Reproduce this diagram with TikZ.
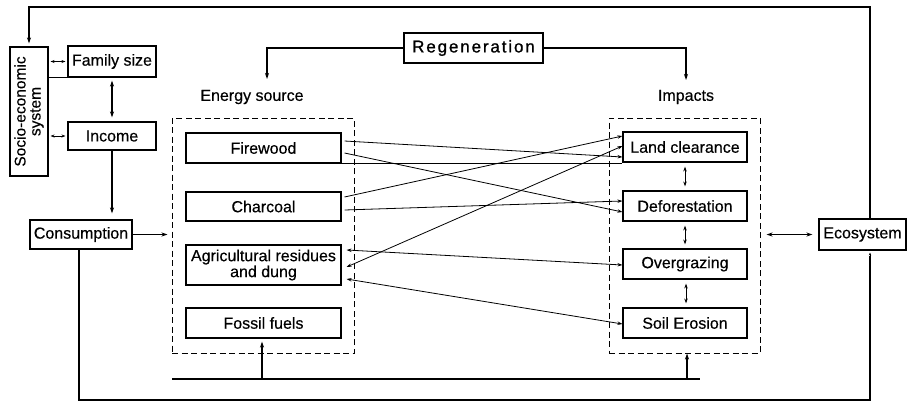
\documentclass[tikz,border=0pt]{standalone}
\usepackage{fontspec}
\setmainfont{Liberation Sans}
\usetikzlibrary{arrows.meta,calc}
\newcommand{\basefont}{\fontsize{16}{16.5}\selectfont\addfontfeatures{FakeBold=0.4}}
\begin{document}
\begin{tikzpicture}[x=1pt,y=-1pt,
  font=\basefont,
  box/.style={draw,line width=1.1pt,inner sep=0pt,align=center},
  dashbox/.style={draw,dashed,dash pattern=on 6pt off 3.5pt,line width=1pt,inner sep=0pt},
  ln/.style={line width=1.1pt},
  arr/.style={ln,-{Stealth[length=6pt,width=4pt]}},
  darr/.style={ln,{Stealth[length=6pt,width=4pt]}-{Stealth[length=6pt,width=4pt]}},
  sarr/.style={line width=0.8pt,{Stealth[length=4pt,width=3pt]}-{Stealth[length=4pt,width=3pt]}},
  thin arr/.style={line width=0.8pt,-{Stealth[length=5pt,width=3.4pt]}},
  thin darr/.style={line width=0.8pt,{Stealth[length=5pt,width=3.4pt]}-{Stealth[length=5pt,width=3.4pt]}}]
\useasboundingbox (0,0) rectangle (907,402);

% left column
\node[box,rotate=90,minimum width=129pt,minimum height=38pt,font=\basefont\fontsize{15.5}{15}\selectfont] (socio) at (29,111.5) {Socio-economic\\system};
\node[box,minimum width=88pt,minimum height=31pt] (fam) at (112,61.5) {Family size};
\node[box,minimum width=88pt,minimum height=28pt] (inc) at (112,136) {Income};
\node[box,minimum width=102pt,minimum height=29pt] (cons) at (81,234.5) {Consumption};

% energy sources
\node (eslab) at (252,97) {Energy source};
\node[dashbox,minimum width=182pt,minimum height=235pt] (ldash) at (263,235.5) {};
\node[box,minimum width=155pt,minimum height=30pt] (fire) at (263.5,148) {Firewood};
\node[box,minimum width=155pt,minimum height=29pt] (char) at (263.5,206.5) {Charcoal};
\node[box,minimum width=155pt,minimum height=40pt,font=\basefont\fontsize{16}{14}\selectfont] (agri) at (263.5,265) {Agricultural residues\\and dung};
\node[box,minimum width=155pt,minimum height=30pt] (foss) at (263.5,323) {Fossil fuels};

% impacts
\node (imlab) at (686,97) {Impacts};
\node[dashbox,minimum width=151pt,minimum height=235pt] (rdash) at (684.5,235.5) {};
\node[box,minimum width=124pt,minimum height=30pt] (land) at (685,147) {Land clearance};
\node[box,minimum width=124pt,minimum height=30pt] (defor) at (685,206) {Deforestation};
\node[box,minimum width=124pt,minimum height=30pt] (over) at (685,264) {Overgrazing};
\node[box,minimum width=124pt,minimum height=30pt] (soil) at (685,323) {Soil Erosion};

\node[box,minimum width=87pt,minimum height=31pt] (eco) at (862.5,234.5) {Ecosystem};
\node[box,minimum width=139pt,minimum height=30pt,font=\fontsize{17}{17}\selectfont\addfontfeatures{LetterSpace=11,FakeBold=1}] (regen) at (473.5,48) {Regeneration};

% top feedback loop
\coordinate (tl) at (29,7);
\coordinate (tr) at (870,7);
\draw[arr] (eco.north -| tr) -- (tr) -- (tl) -- ([yshift=3pt]socio.east -| tl);

% left column connectors
\draw[sarr] (socio.south |- fam) ++(2,0) -- ([xshift=-2pt]fam.west);
\draw[sarr] (socio.south |- inc) ++(2,0) -- ([xshift=-2pt]inc.west);
\draw[ln] (socio.south |- fam.south) -- (fam.south west);
\draw[darr] ([yshift=-3pt]fam.south) -- ([yshift=4pt]inc.north);
\draw[arr] (inc.south) -- ([yshift=6pt]cons.north -| inc.south);
\draw[arr] (cons.east) -- ([xshift=-4pt]ldash.west |- cons.east);

% regeneration
\coordinate (rgl) at (267,48);
\coordinate (rgr) at (686,48);
\draw[arr] (regen.west) -- (rgl) -- (267,79);
\draw[arr] (regen.east) -- (rgr) -- (686,80);

% firewood bottom line
\draw[ln] (fire.south east) -- (fire.south east -| land.west);

% cross links
\draw[thin arr] ([xshift=3pt,yshift=7pt]fire.east) -- ([yshift=-10pt]land.west);
\draw[thin arr] ([xshift=3pt,yshift=-5pt]fire.east) -- ([yshift=-6pt]defor.west);
\draw[thin arr] ([xshift=3pt,yshift=9.5pt]char.east) -- ([yshift=11pt]land.west);
\draw[thin arr] ([xshift=3pt,yshift=-3.5pt]char.east) -- ([yshift=5pt]defor.west);
\draw[thin darr] ([xshift=5pt,yshift=-2pt]agri.east) -- ([yshift=1pt]land.west);
\draw[thin darr] ([xshift=5pt,yshift=15pt]agri.east) -- ([yshift=-1pt]over.west);
\draw[thin darr] ([xshift=5pt,yshift=-14pt]agri.east) -- ([yshift=-1pt]soil.west);

% impacts chain
\draw[thin darr] ([yshift=-4pt]land.south) -- ([yshift=4pt]defor.north);
\draw[thin darr] ([yshift=-4pt]defor.south) -- ([yshift=4pt]over.north);
\draw[thin darr] ([xshift=1pt,yshift=-4pt]over.south) -- ([xshift=1pt,yshift=4pt]soil.north);

% ecosystem link
\draw[darr] ([xshift=6pt]rdash.east |- eco.west) -- ([xshift=-6pt]eco.west);

% bottom lines
\coordinate (b1) at (172,379);
\coordinate (b2) at (700,379);
\draw[ln] (b1) -- (b2);
\draw[arr] (262,379) -- ([yshift=-3pt]foss.south -| 262,0);
\draw[arr] (687,379) -- (rdash.south -| 687,0);

\coordinate (bl) at (79,400);
\coordinate (br) at (870,400);
\draw[ln] (cons.south -| bl) -- (bl) -- (br) -- ([yshift=-5pt]eco.south -| br);
\draw[line width=0.6pt,-{Stealth[length=3pt,width=2.4pt]}] ([yshift=-5pt]eco.south -| br) -- ([yshift=-2pt]eco.south -| br);
\end{tikzpicture}
\end{document}
